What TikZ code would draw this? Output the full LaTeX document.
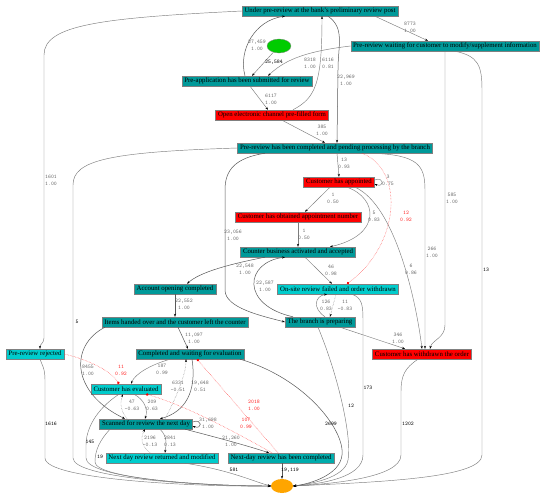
\documentclass[tikz,border=0pt]{standalone}
\usepackage{fontspec}
\setmainfont{Liberation Serif}
\usetikzlibrary{shapes.geometric,arrows.meta}
\definecolor{tealc}{RGB}{0,153,153}
\definecolor{cyanc}{RGB}{0,204,204}
\definecolor{midc}{RGB}{0,172,172}
\definecolor{greenc}{RGB}{0,204,0}
\definecolor{orangec}{RGB}{255,165,0}
\definecolor{edgec}{RGB}{125,125,125}
\definecolor{lblc}{RGB}{105,105,105}
\begin{document}
\begin{tikzpicture}[x=1pt,y=-1pt,
 box/.style={draw=gray, line width=0.4pt, inner xsep=2.5pt, inner ysep=0pt, minimum height=10pt, font=\fontsize{6.8}{8}\selectfont},
 tbox/.style={box, fill=tealc},
 cbox/.style={box, fill=cyanc},
 mbox/.style={box, fill=midc},
 rbox/.style={box, fill=red},
 edge/.style={draw=edgec, line width=0.45pt, -{Stealth[length=3pt,width=2.2pt,color=black]}},
 hedge/.style={edge, draw=black!65, line width=0.5pt},
 dedge/.style={edge, densely dotted},
 redge/.style={draw=red!80, line width=0.45pt, densely dotted, -{Circle[length=2.5pt,color=red]}},
 lbl/.style={font=\fontsize{5.5}{7}\selectfont\ttfamily, text=lblc, align=center, inner sep=0pt},
 blbl/.style={lbl, text=black},
 rlbl/.style={lbl, text=red!85},
]
\fill[white] (0,0) rectangle (550,501);
\useasboundingbox (0,0) rectangle (550,501);

% nodes
\node[tbox] (us) at (320,11) {Under pre-review at the bank's preliminary review post};
\node[ellipse, fill=greenc, draw=gray, line width=0.3pt, minimum width=24pt, minimum height=14pt, inner sep=0pt] (st) at (279,46) {};
\node[tbox] (pw) at (445,46) {Pre-review waiting for customer to modify/supplement information};
\node[tbox] (pa) at (247,81) {Pre-application has been submitted for review};
\node[rbox] (oe) at (272,115) {Open electronic channel pre-filled form};
\node[tbox] (pc) at (335,148) {Pre-review has been completed and pending processing by the branch};
\node[rbox] (ca) at (339,182) {Customer has appointed};
\node[rbox] (cn) at (298,217) {Customer has obtained appointment number};
\node[tbox] (cb) at (298,252) {Counter business activated and accepted};
\node[tbox] (ao) at (175,289) {Account opening completed};
\node[cbox] (os) at (338,289) {On-site review failed and order withdrawn};
\node[tbox] (ih) at (175,322) {Items handed over and the customer left the counter};
\node[tbox] (bp) at (320,322) {The branch is preparing};
\node[cbox] (pr) at (35,354) {Pre-review rejected};
\node[rbox] (cw) at (422,354) {Customer has withdrawn the order};
\node[tbox] (cwe) at (190,354) {Completed and waiting for evaluation};
\node[cbox] (ce) at (126,389) {Customer has evaluated};
\node[tbox] (sr) at (146,424) {Scanned for review the next day};
\node[cbox] (nr) at (162,458) {Next day review returned and modified};
\node[mbox] (nc) at (281,458) {Next-day review has been completed};
\node[ellipse, fill=orangec, draw=none, minimum width=22pt, minimum height=14pt, inner sep=0pt] (en) at (282,486) {};

% edges top
\draw[edge] (st) -- ([xshift=5pt]pa.north);
\draw[hedge] ([xshift=-2pt]pa.north) .. controls (238,50) and (255,20) .. ([xshift=-35pt]us.south);
\draw[edge] ([xshift=55pt]us.south) -- ([xshift=-17pt]pw.north);
\draw[edge] (pw.west) .. controls (300,52) and (283,62) .. ([xshift=21pt]pa.north);
\draw[edge] ([xshift=21pt]oe.north) .. controls (315,98) and (322,85) .. ([xshift=2pt]us.south);
\draw[hedge] ([xshift=8pt]us.south) .. controls (345,28) and (338,45) .. (338,70) -- ([xshift=2pt]pc.north);
\draw[edge] ([xshift=3pt]pa.south) -- ([xshift=-4pt]oe.north);
\draw[edge] ([xshift=10pt]oe.south) -- ([xshift=-10pt]pc.north);
\draw[edge] (us.west) .. controls (100,18) and (44,25) .. (44,55) -- (44,338) .. controls (44,343) and (40,344) .. ([xshift=5pt]pr.north);
\draw[edge] (pc.west) .. controls (110,152) and (73,160) .. (73,185) -- (73,458) .. controls (73,478) and (200,486) .. (en.west);
\draw[edge] ([xshift=5pt]pr.south) .. controls (42,365) and (45,368) .. (45,380) -- (45,458) .. controls (45,480) and (200,487) .. (en.west);
\draw[redge] (pr.east) .. controls (90,360) and (112,372) .. ([xshift=-7pt]ce.north);

% middle
\draw[edge] ([xshift=2pt]pc.south) -- (ca.north);
\draw[edge] ([yshift=2pt]ca.east) .. controls +(10,-4) and +(10,4) .. ([yshift=-2pt]ca.east);
\draw[edge] ([xshift=-9pt]ca.south) -- ([xshift=7pt]cn.north);
\draw[edge] (cn.south) -- (cb.north);
\draw[edge] ([xshift=8pt]ca.south) .. controls (378,198) and (382,235) .. ([xshift=32pt]cb.north);
\draw[edge] ([xshift=16pt]ca.south) .. controls (395,205) and (416,300) .. (cw.north);
\draw[redge] ([xshift=27pt]pc.south) .. controls (405,170) and (400,245) .. ([xshift=9pt]os.north);
\draw[edge] ([xshift=37pt]pc.south) .. controls (418,155) and (425,165) .. (425,190) -- ([xshift=3pt]cw.north);
\draw[edge] (pw.south) -- (445,325) .. controls (445,338) and (432,340) .. ([xshift=8pt]cw.north);
\draw[edge] ([xshift=10pt]pw.south) .. controls (478,56) and (482,65) .. (482,90) -- (482,455) .. controls (482,478) and (380,482) .. (en.east);
\draw[edge] ([xshift=-4pt]cw.south) .. controls (405,368) and (401,375) .. (401,392) -- (401,455) .. controls (401,478) and (330,484) .. (en.east);
\draw[edge] ([xshift=20pt]bp.south) -- ([xshift=-17pt]cw.north);
\draw[hedge] ([xshift=-33pt]cb.south) .. controls (230,264) and (200,272) .. ([xshift=12pt]ao.north);
\draw[edge] ([xshift=7pt]cb.south) -- ([xshift=-6pt]os.north);
\draw[hedge] ([xshift=-27pt]bp.north) .. controls (240,305) and (245,262) .. ([xshift=-13pt]cb.south);
\draw[hedge] ([xshift=-70pt]pc.south) .. controls (235,158) and (225,170) .. (225,190) -- (225,290) .. controls (225,308) and (262,316) .. (bp.west);
\draw[dedge] ([xshift=-2pt]os.south) -- ([xshift=10pt]bp.north);
\draw[edge] ([xshift=5pt]bp.north) .. controls (312,308) and (315,296) .. ([xshift=-11pt]os.south);
\draw[edge] ([xshift=14pt]os.south) .. controls (362,298) and (363,305) .. (363,320) -- (363,455) .. controls (363,478) and (320,484) .. (en.east);
\draw[edge] ([xshift=-2pt]bp.south) .. controls (340,380) and (352,440) .. (348,460) .. controls (345,478) and (310,484) .. (en.east);

% lower
\draw[hedge] (ao.south) -- (ih.north);
\draw[hedge] ([xshift=3pt]ih.south) -- ([xshift=-2pt]cwe.north);
\draw[hedge] ([xshift=-70pt]ih.south) .. controls (70,345) and (70,392) .. ([xshift=-21pt]sr.north);
\draw[edge] ([xshift=-20pt]cwe.south) .. controls (150,365) and (135,374) .. ([xshift=5pt]ce.north);
\draw[hedge] ([xshift=2pt]cwe.south) .. controls (197,392) and (185,412) .. ([xshift=14pt]sr.north);
\draw[dedge] ([xshift=19pt]sr.north) .. controls (175,400) and (186,375) .. ([xshift=-4pt]cwe.south);
\draw[dedge] ([xshift=-19pt]sr.north) .. controls (120,410) and (120,402) .. ([xshift=-3pt]ce.south);
\draw[edge] ([xshift=8pt]ce.south) .. controls (145,400) and (148,410) .. ([xshift=-1pt]sr.north);
\draw[edge] ([xshift=-7pt]ce.south) .. controls (95,410) and (86,430) .. (86,445) -- (86,458) .. controls (86,478) and (200,486) .. (en.west);
\draw[edge] ([xshift=-36pt]sr.south) .. controls (100,440) and (95,450) .. (95,462) .. controls (95,478) and (200,486) .. (en.west);
\draw[edge] ([xshift=14pt]sr.south) .. controls (168,437) and (166,445) .. ([xshift=3pt]nr.north);
\draw[dedge] ([xshift=-12pt]nr.north) .. controls (140,445) and (141,436) .. ([xshift=-1pt]sr.south);
\draw[hedge] ([xshift=39pt]sr.south) .. controls (215,437) and (245,445) .. ([xshift=-12pt]nc.north);
\draw[hedge] ([yshift=2pt]sr.east) .. controls +(10,-4) and +(10,4) .. ([yshift=-2pt]sr.east);
\draw[redge] ([xshift=-3pt]nc.north) -- ([xshift=7pt]cwe.south);
\draw[redge] ([xshift=-9pt]nc.north) .. controls (235,432) and (185,405) .. ([xshift=20pt]ce.south);
\draw[hedge] ([xshift=1pt]nc.south) -- (en.north);
\draw[edge] ([xshift=23pt]nr.south) .. controls (230,470) and (255,482) .. (en.west);
\draw[hedge] ([xshift=50pt]cwe.south) .. controls (305,378) and (345,430) .. (342,455) .. controls (340,475) and (310,484) .. (en.east);

% labels
\node[blbl] (l1) at (274,62) {25,584};
\node[lbl] (l2) at (257,45) {27,459\\1.00};
\node[lbl] (l3) at (410,27.5) {8773\\1.00};
\node[lbl] (l4) at (310,63.5) {8318\\1.00};
\node[lbl] (l5) at (328,63.5) {6116\\0.81};
\node[lbl] (l6) at (346,80.5) {22,969\\1.00};
\node[lbl] (l7) at (271,99) {6117\\1.00};
\node[lbl] (l8) at (322,130.5) {385\\1.00};
\node[lbl] (l9) at (51,180.5) {1601\\1.00};
\node[blbl] (l10) at (77,322) {5};
\node[blbl] (l11) at (51,424) {1616};
\node[rlbl] (l12) at (121,370.5) {11\\0.92};
\node[lbl] (l13) at (344,163.5) {13\\0.93};
\node[lbl] (l14) at (388,180.5) {3\\0.75};
\node[lbl] (l15) at (333,198.5) {1\\0.50};
\node[lbl] (l16) at (304,234.5) {1\\0.50};
\node[lbl] (l17) at (374,216.5) {5\\0.83};
\node[lbl] (l18) at (411,269.5) {6\\0.86};
\node[rlbl] (l19) at (406,216.5) {12\\0.92};
\node[lbl] (l20) at (432,252.5) {266\\1.00};
\node[lbl] (l21) at (452,198.5) {585\\1.00};
\node[blbl] (l22) at (486,270) {13};
\node[blbl] (l23) at (408,424) {1202};
\node[lbl] (l24) at (398,338.5) {346\\1.00};
\node[lbl] (l25) at (245,269.5) {22,548\\1.00};
\node[lbl] (l26) at (331,270) {46\\0.98};
\node[lbl] (l27) at (265,286.5) {22,587\\1.00};
\node[lbl] (l28) at (233,235) {23,056\\1.00};
\node[lbl] (l29) at (345,305.5) {11\\-0.83};
\node[lbl] (l30) at (326,305.5) {126\\0.83};
\node[blbl] (l31) at (368,388) {173};
\node[blbl] (l32) at (351,406) {12};
\node[lbl] (l33) at (184,304.5) {22,552\\1.00};
\node[lbl] (l34) at (194,338.5) {11,097\\1.00};
\node[lbl] (l35) at (88,370.5) {8455\\1.00};
\node[lbl] (l36) at (162,369.5) {187\\0.99};
\node[lbl] (l37) at (200,386.5) {19,648\\0.51};
\node[lbl] (l38) at (178,386.5) {6331\\-0.51};
\node[lbl] (l39) at (132,405) {47\\-0.63};
\node[lbl] (l40) at (152,405) {209\\0.63};
\node[blbl] (l41) at (90,442) {145};
\node[blbl] (l42) at (100,457) {19};
\node[lbl] (l43) at (170,441.5) {2841\\0.13};
\node[lbl] (l44) at (150,441.5) {2196\\-0.13};
\node[lbl] (l45) at (231,441.5) {21,260\\1.00};
\node[lbl] (l46) at (208,423.5) {31,698\\1.00};
\node[rlbl] (l47) at (254,405.5) {2018\\1.00};
\node[rlbl] (l48) at (246,423.5) {107\\0.99};
\node[blbl] (l49) at (290,470) {19,119};
\node[blbl] (l50) at (234,470) {581};
\node[blbl] (l51) at (331,424) {2699};
\end{tikzpicture}
\end{document}
